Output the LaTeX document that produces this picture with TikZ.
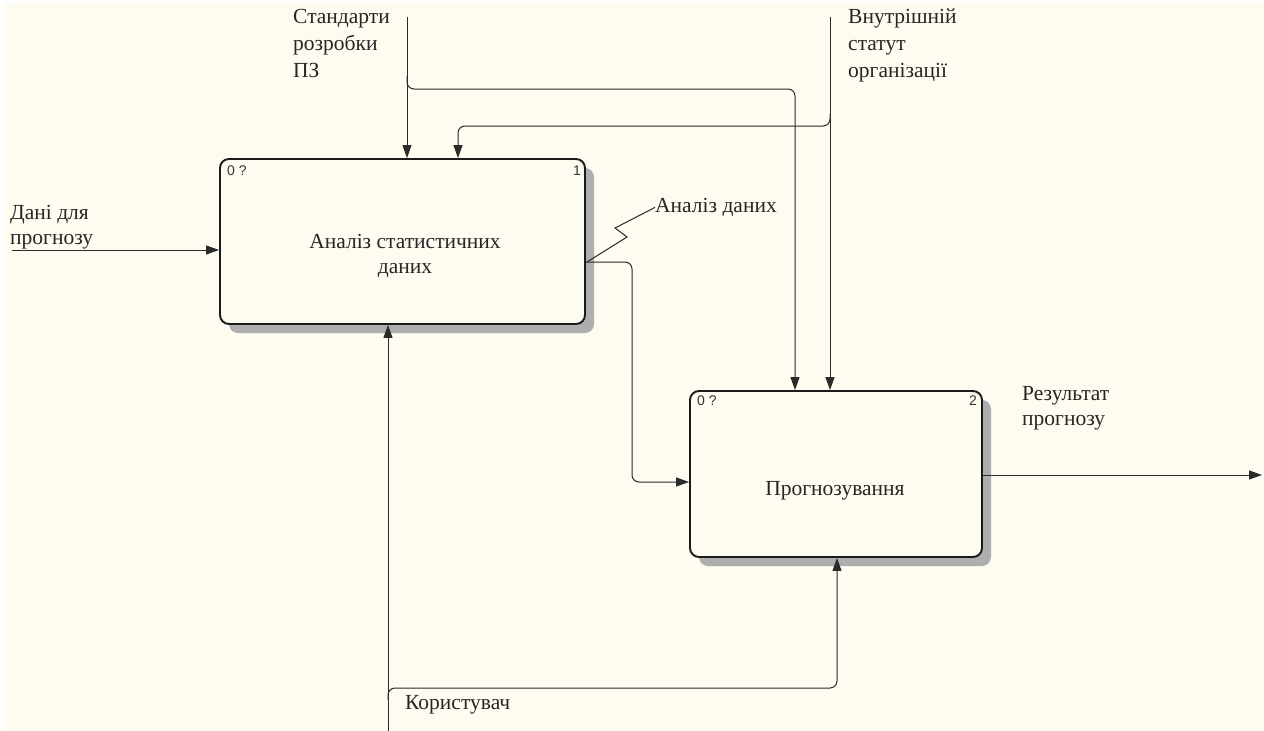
\documentclass[tikz,border=0pt]{standalone}
\usepackage{fontspec}
\setmainfont{Liberation Serif}
\newfontfamily\sansf{Liberation Sans}
\usetikzlibrary{arrows.meta,shadows}
\definecolor{bgc}{HTML}{FEFBF0}
\definecolor{linec}{HTML}{2A2A2A}
\definecolor{boxc}{HTML}{1A1A1A}
\definecolor{shc}{HTML}{AEAEAE}
\begin{document}
\begin{tikzpicture}[x=1pt,y=-1pt,
  lbl/.style={font=\fontsize{21.5}{25}\selectfont, anchor=north west, inner sep=0pt, align=left, text=black!85},
  toplbl/.style={lbl, font=\fontsize{21.5}{27}\selectfont},
  boxtext/.style={font=\fontsize{21.5}{25}\selectfont, align=center, text=black!85},
  procbox/.style={draw=boxc, line width=1.9pt, rounded corners=9pt, fill=bgc, inner sep=0pt,
    drop shadow={shadow xshift=9pt, shadow yshift=-9pt, fill=shc, opacity=1}},
  corner/.style={font=\sansf\fontsize{14}{16}\selectfont, inner sep=0pt, text=black!80},
  arr/.style={line width=1pt, draw=linec, rounded corners=7pt, -{Triangle[length=13pt,width=9pt]}},
  conn/.style={line width=1pt, draw=linec}
]
\useasboundingbox (0,0) rectangle (1264,731);
\fill[white] (0,0) rectangle (1264,731);
\fill[bgc] (4,3) rectangle (1264,731);

% boxes
\node[procbox, minimum width=365pt, minimum height=165pt] (b1) at (402.5,241.5) {};
\node[boxtext] (t1) at (405,256) {Аналіз статистичних\\даних};
\node[corner, anchor=north west] (n1a) at (227,166) {0 ?};
\node[corner, anchor=north east] (n1b) at (581,166) {1};

\node[procbox, minimum width=292pt, minimum height=166pt] (b2) at (836,474) {};
\node[boxtext] (t2) at (835,491) {Прогнозування};
\node[corner, anchor=north west] (n2a) at (697,396) {0 ?};
\node[corner, anchor=north east] (n2b) at (977,396) {2};

% labels
\node[lbl] (lin) at (10,205) {Дані для\\прогнозу};
\node[toplbl] (lc1) at (293,9) {Стандарти\\розробки\\ПЗ};
\node[toplbl] (lc2) at (848,9) {Внутрішній\\статут\\організації};
\node[lbl] (lout1) at (655,198) {Аналіз даних};
\node[lbl] (lout2) at (1022,386) {Результат\\прогнозу};
\node[lbl] (lmech) at (405,695) {Користувач};

% coordinates
\coordinate (inS) at (12,250);
\coordinate (c1) at (407,17);
\coordinate (c1b) at (407,76);
\coordinate (c1y) at (407,89);
\coordinate (c1x) at (795,89);
\coordinate (c2) at (830,17);
\coordinate (c2b) at (830,114);
\coordinate (c2y) at (830,126);
\coordinate (c2x) at (458,126);
\coordinate (m) at (388,731);
\coordinate (mb) at (388,700);
\coordinate (my) at (388,688);
\coordinate (mx) at (837,688);
\coordinate (o1) at (585,262);
\coordinate (o1x) at (632,262);
\coordinate (o1y) at (632,482);
\coordinate (o2) at (982,475);
\coordinate (oend) at (1262,475);

% input
\draw[arr] (inS) -- (inS -| b1.west);
% controls
\draw[arr] (c1) -- (c1 |- b1.north);
\draw[arr] (c1b) -- (c1y) -- (c1x) -- (c1x |- b2.north);
\draw[arr] (c2) -- (c2 |- b2.north);
\draw[arr] (c2b) -- (c2y) -- (c2x) -- (c2x |- b1.north);
% mechanism
\draw[arr] (m) -- (m |- b1.south);
\draw[arr] (mb) -- (my) -- (mx) -- (mx |- b2.south);
% outputs
\draw[arr] (o1) -- (o1x) -- (o1y) -- (o1y -| b2.west);
\draw[arr] (o2 -| b2.east) -- (oend);
% squiggle
\draw[conn] (o1) ++(2,0) -- (627,237) -- (615,228) -- (lout1.west);
\end{tikzpicture}
\end{document}
